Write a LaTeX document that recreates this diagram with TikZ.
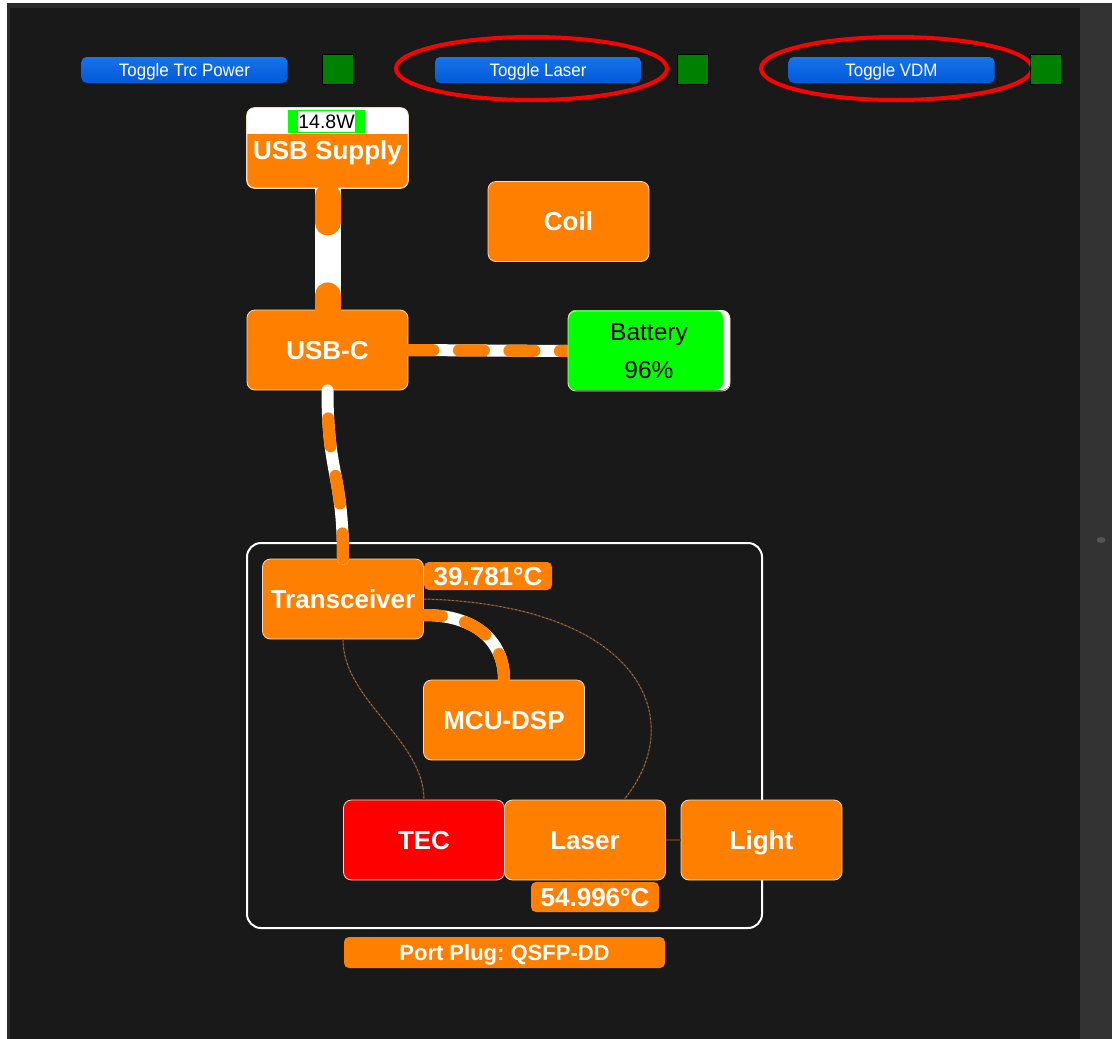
\documentclass[tikz,border=0pt]{standalone}
\usepackage{fontspec}
\setmainfont{Liberation Sans}
\usetikzlibrary{calc}
\definecolor{bg}{HTML}{191919}
\definecolor{frame}{HTML}{2A2A2A}
\definecolor{orng}{HTML}{FF7F00}
\definecolor{edge}{HTML}{F0DCC8}
\definecolor{btntop}{HTML}{1872EA}
\definecolor{btnbot}{HTML}{005AD8}
\definecolor{sq}{HTML}{008000}
\definecolor{brn}{HTML}{5E320C}
\definecolor{dashgray}{HTML}{9A9A9A}
\definecolor{scr}{HTML}{333333}
\definecolor{knob}{HTML}{555555}
\newcommand\btxt[1]{\scalebox{0.94}[1]{#1}}
\frenchspacing
\begin{document}
\begin{tikzpicture}[x=1pt,y=-1pt,
  box/.style={rectangle, rounded corners=8pt, fill=orng, draw=edge, line width=0.8pt,
    minimum width=161pt, minimum height=80pt, inner sep=0pt, text=white,
    font=\fontsize{26}{30}\selectfont\bfseries, text height=18.6pt, text depth=0pt},
  btnbox/.style={rectangle, rounded corners=5pt, top color=btntop, bottom color=btnbot,
    minimum width=206pt, minimum height=26pt, inner sep=0pt, text=white,
    font=\fontsize{18}{20}\selectfont, text height=13pt, text depth=0pt},
  sqbox/.style={rectangle, fill=sq, draw=black, line width=0.6pt,
    minimum width=31pt, minimum height=30pt, inner sep=0pt},
  templabel/.style={rectangle, rounded corners=5pt, fill=orng, minimum width=128pt,
    minimum height=28pt, inner sep=0pt, text=white,
    font=\fontsize{26}{30}\selectfont\bfseries, text height=18.6pt, text depth=0pt},
  flowwhite/.style={white, line width=#1},
  flowdash/.style={orng, line width=#1, line cap=round},
  thinbase/.style={brn, line width=1.4pt},
  thindash/.style={dashgray, line width=0.5pt, dash pattern=on 2pt off 2pt},
  annot/.style={red, line width=4pt}
]
% background and window frame
\fill[white] (0,0) rectangle (1112,1039);
\fill[frame] (7,3) rectangle (1112,1039);
\fill[bg] (10,8) rectangle (1080,1039);
\fill[scr] (1080,3) rectangle (1112,1039);
\fill[knob] (1101,540) ellipse [x radius=4.5, y radius=3];
\useasboundingbox (0,0) rectangle (1112,1039);

% top buttons
\node[btnbox] (b1) at (184.5,70) {\btxt{Toggle Trc Power}};
\node[btnbox] (b2) at (538,70) {\btxt{Toggle Laser}};
\node[btnbox] (b3) at (891.5,70) {\btxt{Toggle VDM}};
\draw[annot] (531.5,68.5) ellipse [x radius=135.5, y radius=31.5];
\draw[annot] (896.5,68.5) ellipse [x radius=135.5, y radius=31.5];
\node[sqbox] (s1) at (338,69) {};
\node[sqbox] (s2) at (692.5,69) {};
\node[sqbox] (s3) at (1046,69) {};

% USB supply
\node[box, text height=41pt, text depth=18pt] (usbs) at (327.5,148) {USB Supply};
\begin{scope}
  \clip[rounded corners=8pt] (usbs.south west) rectangle (usbs.north east);
  \fill[white] (usbs.north west) rectangle ($(usbs.north east)+(0,26)$);
\end{scope}
\draw[edge, line width=0.8pt, rounded corners=8pt] (usbs.south west) rectangle (usbs.north east);
\node[rectangle, fill=green, minimum width=77pt, minimum height=23pt, inner sep=0pt] (pwbg) at (326.5,121.5) {};
\node[rectangle, fill=white, minimum width=57pt, minimum height=21pt, inner sep=0pt,
  font=\fontsize{19.5}{20}\selectfont, text height=14pt, text depth=0pt] (pw) at (326.5,121.5) {14.8W};

% other nodes
\node[box] (coil) at (568.5,221.5) {Coil};
\node[box] (usbc) at (327.5,350) {USB-C};
\fill[white, rounded corners=8pt] (568,310) rectangle (730,390);
\fill[green, rounded corners=8pt] (568,310) rectangle (723,390);
\node[rectangle, draw=edge, line width=0.8pt, rounded corners=8pt, minimum width=162pt,
  minimum height=80pt, inner sep=0pt, align=center, text=black,
  font=\fontsize{24.5}{38}\selectfont] (bat) at (649,351) {Battery\\96\%};

% port container
\node[rectangle, draw=white, line width=2pt, rounded corners=14pt, minimum width=515pt,
  minimum height=385pt, inner sep=0pt] (port) at (504.5,735.5) {};
\node[box] (trx) at (343,599) {Transceiver};
\node[templabel] (t1) at (488,576) {39.781°C};
\node[box] (mcu) at (504,720) {MCU-DSP};
\node[box, fill=red] (tec) at (424,840) {TEC};
\node[box] (laser) at (585,840) {Laser};
\node[box] (light) at (761.5,840) {Light};
\node[templabel, minimum height=30pt] (t2) at (595,897) {54.996°C};
\node[templabel, minimum width=321pt, minimum height=31pt,
  font=\fontsize{22}{26}\selectfont\bfseries, text height=15.8pt] (plug) at (504.5,952.5) {Port Plug: QSFP-DD};

% thick flow connectors
\draw[flowwhite=26pt] (usbs.south) -- (usbc.north);
\draw[flowdash=26pt, dash pattern=on 26pt off 73pt, dash phase=91pt] (usbs.south) -- (usbc.north);

\begin{scope}
  \clip (0,0) rectangle (bat.south west);
  \draw[flowwhite=12pt] (usbc.east) -- (bat.west);
  \draw[flowdash=12pt, dash pattern=on 25pt off 25.5pt] (usbc.east) -- (bat.west);
\end{scope}

\draw[flowwhite=12pt, line cap=round] (usbc.south) .. controls +(0,85) and +(0,-85) .. (trx.north);
\draw[flowdash=12pt, dash pattern=on 28pt off 30pt, dash phase=30pt] (usbc.south) .. controls +(0,85) and +(0,-85) .. (trx.north);

\draw[flowwhite=12pt] ([yshift=-16pt]trx.east) .. controls +(50,0) and +(0,-40) .. (mcu.north);
\draw[flowdash=12pt, dash pattern=on 24pt off 24pt, dash phase=6pt] ([yshift=-16pt]trx.east) .. controls +(50,0) and +(0,-40) .. (mcu.north);

% thin signal connectors
\draw[thinbase] (trx.south) .. controls +(0,61) and +(0,-60) .. (tec.north);
\draw[thindash] (trx.south) .. controls +(0,61) and +(0,-60) .. (tec.north);
\draw[thinbase] (trx.east) .. controls +(217,6) and +(66,-80) .. ([xshift=39pt]laser.north);
\draw[thindash] (trx.east) .. controls +(217,6) and +(66,-80) .. ([xshift=39pt]laser.north);
\draw[thinbase] (laser.east) -- (light.west);
\end{tikzpicture}
\end{document}
